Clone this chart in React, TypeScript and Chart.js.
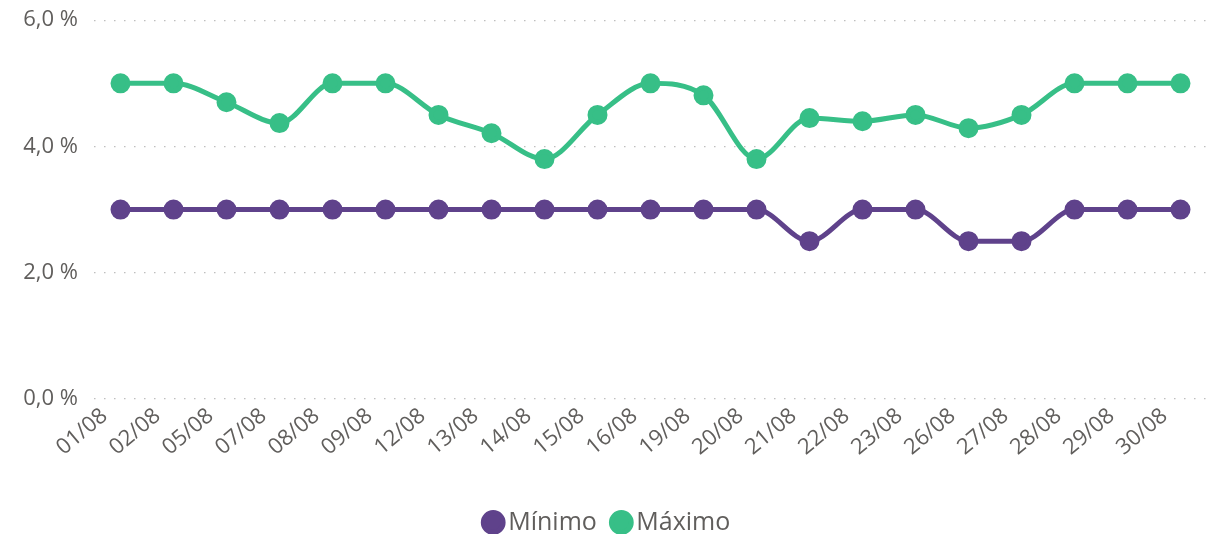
import React, { useEffect, useRef } from "react";
import { Chart, registerables } from "chart.js";

Chart.register(...registerables);

const categories = ["01/08", "02/08", "05/08", "07/08", "08/08", "09/08", "12/08", "13/08", "14/08", "15/08", "16/08", "19/08", "20/08", "21/08", "22/08", "23/08", "26/08", "27/08", "28/08", "29/08", "30/08"];
const minimo = [3, 3, 3, 3, 3, 3, 3, 3, 3, 3, 3, 3, 3, 2.5, 3, 3, 2.5, 2.5, 3, 3, 3];
const maximo = [5, 5, 4.7, 4.37, 5, 5, 4.5, 4.21, 3.8, 4.5, 5, 4.81, 3.8, 4.45, 4.4, 4.5, 4.29, 4.5, 5, 5, 5];
const yTicks = [0, 2, 4, 6];

const FONT = "'Open Sans', 'Noto Sans', sans-serif";

export default function App() {
  const ref = useRef<HTMLCanvasElement | null>(null);
  useEffect(() => {
    if (!ref.current) return;
    const chart = new Chart(ref.current, {
      type: "line",
      data: {
        labels: categories,
        datasets: [
          {
            label: "Mínimo",
            data: minimo,
            borderColor: "#5F428B",
            backgroundColor: "#5F428B",
            pointBackgroundColor: "#5F428B",
            pointBorderColor: "#5F428B",
            borderWidth: 5,
            pointRadius: 7.5,
            pointHoverRadius: 7.5,
            cubicInterpolationMode: "monotone",
          },
          {
            label: "Máximo",
            data: maximo,
            borderColor: "#37BF87",
            backgroundColor: "#37BF87",
            pointBackgroundColor: "#37BF87",
            pointBorderColor: "#37BF87",
            borderWidth: 5,
            pointRadius: 7.5,
            pointHoverRadius: 7.5,
            cubicInterpolationMode: "monotone",
          },
        ],
      },
      options: {
        animation: false,
        responsive: true,
        maintainAspectRatio: false,
        layout: { autoPadding: false, padding: { left: 14, right: 18, top: 0, bottom: -11 } },
        plugins: {
          tooltip: { enabled: false },
          legend: {
            position: "bottom",
            labels: {
              usePointStyle: true,
              pointStyle: "circle",
              boxWidth: 5,
              boxHeight: 14,
              padding: 22,
              color: "#605E5C",
              font: { family: FONT, size: 25 },
            },
          },
        },
        scales: {
          x: {
            offset: true,
            grid: { display: false },
            border: { display: false },
            ticks: {
              minRotation: 40,
              maxRotation: 40,
              autoSkip: false,
              color: "#605E5C",
              font: { family: FONT, size: 22 },
              padding: -4,
              labelOffset: -16,
            },
            afterFit: (s: any) => {
              s.height = 89;
            },
          },
          y: {
            min: 0,
            max: 6,
            afterBuildTicks: (s: any) => {
              s.ticks = yTicks.map((v) => ({ value: v }));
            },
            grid: {
              color: "#BEBEBE",
              lineWidth: 1.3,
              drawTicks: false,
            },
            border: { display: false, dash: [1.5, 8.5] },
            ticks: {
              color: "#605E5C",
              font: { family: FONT, size: 22 },
              padding: 16,
              callback: (v: any) => Number(v).toFixed(1).replace(".", ",") + " %",
            },
            afterFit: (s: any) => {
              s.width = 80;
            },
          },
        },
      },
    });
    return () => chart.destroy();
  }, []);
  return (
    <div style={{ position: "fixed", left: 0, top: -9, width: 1225, height: 543 }}>
      <canvas ref={ref} />
    </div>
  );
}
